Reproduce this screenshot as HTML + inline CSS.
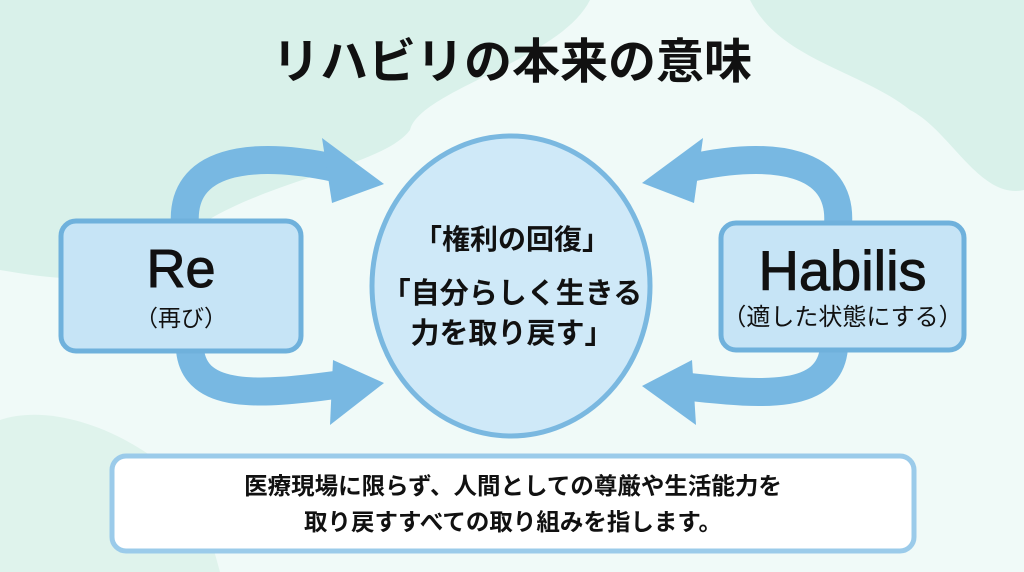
<!DOCTYPE html>
<html><head><meta charset="utf-8"><style>
html,body{margin:0;padding:0}
body{width:1024px;height:572px;overflow:hidden;position:relative;background:#f0faf8;font-family:"Liberation Sans","Noto Sans CJK JP",sans-serif;}
svg{position:absolute;left:0;top:0}
.t{position:absolute;text-align:center;color:#111;font-weight:bold;white-space:nowrap}
</style></head><body>
<svg width="1024" height="572">
<path d="M0 0 H590 C560 60 420 90 410 130 C380 170 250 180 180 240 C120 290 60 280 0 270 Z" fill="#d9f1ea"/>
<path d="M750 0 H1024 V190 C980 200 950 130 910 110 C860 70 780 60 750 0 Z" fill="#d9f1ea"/>
<path d="M0 420 C60 400 150 440 200 500 L220 572 H0 Z" fill="#dff3ec"/>
<g fill="none" stroke="#78b8e2" stroke-width="28" stroke-linecap="butt">
<path d="M185 225 C180 160 250 150 335 168"/>
<path d="M190 350 C195 400 260 395 335 385"/>
<path d="M838 225 C843 160 773 150 690 168"/>
<path d="M834 348 C829 400 764 395 690 387"/>
</g>
<g fill="#78b8e2">
<polygon points="322,138 384,184 332,203"/>
<polygon points="333,360 384,383 330,425"/>
<polygon points="703,138 642,183 694,203"/>
<polygon points="692,360 642,386 696,425"/>
</g>
<ellipse cx="511" cy="286" rx="139" ry="150" fill="#cfe9f8" stroke="#7ab8e0" stroke-width="5"/>
<rect x="61" y="221" width="240" height="130" rx="15" fill="#c6e4f6" stroke="#6fb1dc" stroke-width="5"/>
<rect x="721" y="223" width="243" height="127" rx="15" fill="#c6e4f6" stroke="#6fb1dc" stroke-width="5"/>
<rect x="112" y="456" width="802" height="95" rx="14" fill="#fff" stroke="#9bcbea" stroke-width="5"/>
</svg>
<div class="t" style="left:0;width:1024px;top:33px;font-size:48px;line-height:60px">リハビリの本来の意味</div>
<div class="t" style="left:61px;width:240px;top:238px;font-size:54px;line-height:62px;font-weight:normal;-webkit-text-stroke:1px #111">Re</div>
<div class="t" style="left:61px;width:240px;top:304px;font-size:23px;line-height:28px;font-weight:normal">（再び）</div>
<div class="t" style="left:721px;width:243px;top:240px;font-size:56px;line-height:62px;font-weight:normal;-webkit-text-stroke:1px #111">Habilis</div>
<div class="t" style="left:721px;width:243px;top:304px;font-size:24px;line-height:28px;font-weight:normal">（適した状態にする）</div>
<div class="t" style="left:362px;width:300px;top:221px;font-size:28px;line-height:38px">「権利の回復」</div>
<div class="t" style="left:362px;width:300px;top:274px;font-size:29px;line-height:40px">「自分らしく生きる<br>力を取り戻す」</div>
<div class="t" style="left:112px;width:802px;top:468px;font-size:23.5px;line-height:36px">医療現場に限らず、人間としての尊厳や生活能力を<br>取り戻すすべての取り組みを指します。</div>
</body></html>
